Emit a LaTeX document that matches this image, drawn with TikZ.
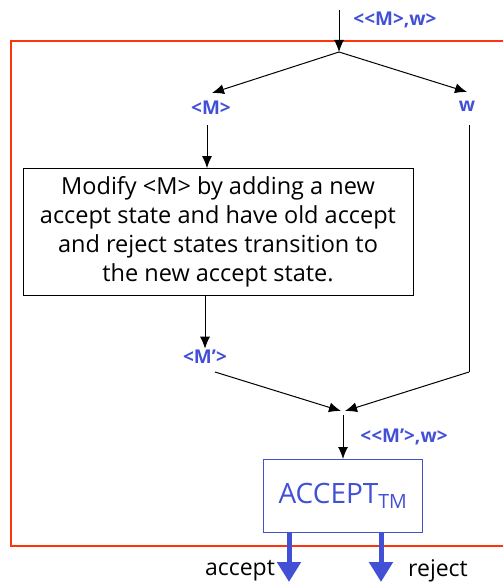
\documentclass[tikz,border=0pt]{standalone}
\usepackage{fontspec}
\setmainfont{Open Sans}
\usetikzlibrary{arrows.meta}
\definecolor{lblblue}{RGB}{66,80,214}
\definecolor{framered}{RGB}{255,52,12}

\begin{document}
\begin{tikzpicture}
  [x=1pt, y=-1pt, line width=1pt, arrows={-Latex[length=12pt,width=10pt]}, font=\fontsize{17}{20}\selectfont]
  \tikzset{lbl/.style={text=lblblue, inner sep=1pt, font=\fontsize{19}{22}\selectfont\bfseries}}
  \tikzset{box/.style={draw, line width=0.8pt, align=center, inner sep=0pt, minimum width=390pt, minimum height=127pt, font=\fontsize{23.5}{29}\selectfont}}
  \tikzset{tm/.style={draw=lblblue, line width=1pt, text=lblblue, minimum width=159pt, minimum height=73pt, font=\fontsize{28}{30}\selectfont}}
  \tikzset{outcome/.style={draw=lblblue, line width=5pt, arrows={-Triangle[length=20pt,width=23pt]}}}
  \tikzset{result/.style={inner sep=0pt, font=\fontsize{23}{26}\selectfont}}

  \useasboundingbox (0,0) rectangle (503,586);
  \draw[framered, line width=2pt, arrows=-] (11,41) rectangle (530,546);

  % input
  \coordinate (IN) at (339,10);
  \coordinate (SP) at (339,52);
  \node[lbl] (MW) at (395,20) {<\kern0pt<M>,w>};
  \draw (IN) -- (SP);

  % split
  \node[lbl] (M) at (211,108) {<M>};
  \node[lbl] (W) at (467,106) {w};
  \draw (SP) -- (212,93) coordinate (Mtip);
  \draw (SP) -- (467,92) coordinate (Wtip);

  % Modify
  \node[box] (MOD) at (218,232) {Modify <M> by adding a new\\accept state and have old accept\\and reject states transition to\\the new accept state.};
  \coordinate (Mbot) at (207,125);
  \draw (Mbot) -- (MOD.north -| Mbot);

  \node[lbl] (MP) at (205,357) {<M’>};
  \draw (MOD.south -| MP) -- (MP.north);

  % join
  \coordinate (LJ) at (215,372);
  \coordinate (Wbot) at (469,125);
  \coordinate (RJ) at (469,372);
  \coordinate (JL) at (341,411);
  \coordinate (JR) at (345,411);
  \coordinate (JN) at (343,415);
  \draw (LJ) -- (JL);
  \draw[arrows=-] (Wbot) -- (RJ);
  \draw (RJ) -- (JR);

  % ACCEPT_TM
  \node[tm] (ACC) at (343,496) {ACCEPT\textsubscript{TM}};
  \node[lbl] (MPW) at (404,437) {<\kern0pt<M’>,w>};
  \draw (JN) -- (ACC.north);

  % outputs
  \coordinate (YES) at (289,582);
  \coordinate (NO) at (381,582);
  \draw[outcome] (ACC.south -| YES) -- (YES);
  \draw[outcome] (ACC.south -| NO) -- (NO);
  \node[result] (ACCEPT) at (240,571) {accept};
  \node[result] (REJECT) at (438,571) {reject};
\end{tikzpicture}
\end{document}
